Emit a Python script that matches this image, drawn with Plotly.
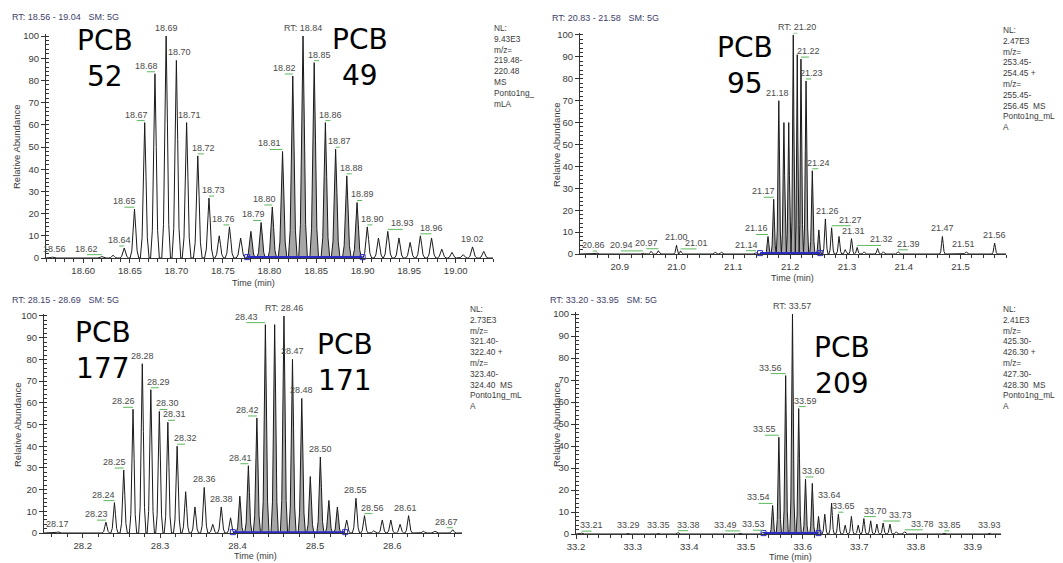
import plotly.graph_objects as go

W, H = 1063, 563

# ---------------- DATA ----------------
# Panel 1: PCB 52 / PCB 49
P1_T = [18.567, 18.620, 18.632, 18.644, 18.655, 18.666, 18.677, 18.689, 18.700, 18.711,
        18.723, 18.735, 18.746, 18.757, 18.769, 18.780, 18.791, 18.803, 18.814, 18.825,
        18.836, 18.848, 18.860, 18.871, 18.883, 18.894, 18.905, 18.917, 18.927, 18.939,
        18.951, 18.962, 18.974, 18.985, 18.996, 19.008, 19.018, 19.030]
P1_H = [0.4, 0.6, 1.2, 4.5, 22, 61, 83, 100, 89, 61,
        46, 27, 10, 14, 9, 12, 16, 23, 48, 82,
        100, 88, 61, 49, 37, 25, 14, 9, 12, 9,
        7, 10, 9, 4, 2.5, 1.5, 5, 3]
P1_L = ["18.56", "18.62", "", "18.64", "18.65", "18.67", "18.68", "18.69", "18.70", "18.71",
        "18.72", "18.73", "", "18.76", "", "", "18.79", "18.80", "18.81", "18.82",
        "RT: 18.84", "18.85", "18.86", "18.87", "18.88", "18.89", "18.90", "", "18.93", "",
        "", "18.96", "", "", "", "", "19.02", ""]
P1_RANGE = [18.56, 19.04]
P1_INTEG = [18.776, 18.900]
P1_HEADER = "RT: 18.56 - 19.04   SM: 5G"
P1_NL = ["NL:", "9.43E3", "m/z=", "219.48-", "220.48", "MS", "Ponto1ng_", "mLA"]
P1_NAMES = [("PCB", "52"), ("PCB", "49")]

# Panel 2: PCB 95
P2_T = [20.860, 20.941, 20.955, 20.968, 21.000, 21.007, 21.068, 21.079, 21.140, 21.161,
        21.171, 21.180, 21.189, 21.1975, 21.2055, 21.2125, 21.219, 21.228, 21.239, 21.2505,
        21.262, 21.273, 21.286, 21.297, 21.308, 21.318, 21.330, 21.354, 21.364, 21.390,
        21.468, 21.510, 21.560]
P2_H = [0.4, 0.5, 1.2, 1.5, 4, 1.4, 0.8, 0.8, 0.6, 8,
        25, 70, 60, 60, 100, 91, 89, 79, 38, 11,
        16, 12, 8, 2, 7, 3, 1, 2.5, 1, 1,
        8, 1, 5]
P2_L = ["20.86", "20.94", "", "20.97", "21.00", "21.01", "", "", "21.14", "21.16",
        "21.17", "21.18", "", "", "RT: 21.20", "", "21.22", "21.23", "21.24", "",
        "21.26", "21.27", "", "", "21.31", "21.32", "", "", "", "21.39",
        "21.47", "21.51", "21.56"]
P2_RANGE = [20.83, 21.58]
P2_INTEG = [21.147, 21.253]
P2_HEADER = "RT: 20.83 - 21.58   SM: 5G"
P2_NL = ["NL:", "2.47E3", "m/z=", "253.45-", "254.45 +", "m/z=", "255.45-", "256.45  MS",
         "Ponto1ng_mL", "A"]
P2_NAMES = [("PCB", "95")]

# Panel 3: PCB 177 / PCB 171
P3_T = [28.168, 28.230, 28.241, 28.253, 28.265, 28.277, 28.288, 28.299, 28.310, 28.322,
        28.333, 28.345, 28.357, 28.368, 28.379, 28.391, 28.403, 28.414, 28.425, 28.436,
        28.448, 28.460, 28.471, 28.483, 28.494, 28.507, 28.518, 28.529, 28.541, 28.553,
        28.564, 28.576, 28.587, 28.598, 28.610, 28.621, 28.640, 28.655, 28.678]
P3_H = [0.5, 5, 14, 29, 57, 78, 66, 56, 51, 40,
        19, 12, 21, 4, 12, 7, 17, 31, 53, 96,
        96, 100, 80, 62, 26, 35, 15, 12, 6, 16,
        8, 1, 6, 6, 4, 8, 0.8, 0.8, 1.5]
P3_L = ["28.17", "28.23", "28.24", "28.25", "28.26", "28.28", "28.29", "28.30", "28.31", "28.32",
        "", "", "28.36", "", "28.38", "", "", "28.41", "28.42", "28.43",
        "", "RT: 28.46", "28.47", "28.48", "", "28.50", "", "", "", "28.55",
        "28.56", "", "", "", "", "28.61", "", "", "28.67"]
P3_RANGE = [28.15, 28.69]
P3_INTEG = [28.394, 28.539]
P3_HEADER = "RT: 28.15 - 28.69   SM: 5G"
P3_NL = ["NL:", "2.73E3", "m/z=", "321.40-", "322.40 +", "m/z=", "323.40-", "324.40  MS",
         "Ponto1ng_mL", "A"]
P3_NAMES = [("PCB", "177"), ("PCB", "171")]

# Panel 4: PCB 209
P4_T = [33.210, 33.292, 33.346, 33.380, 33.490, 33.530, 33.547, 33.558, 33.570, 33.582,
        33.593, 33.605, 33.617, 33.628, 33.639, 33.651, 33.663, 33.675, 33.686, 33.698,
        33.708, 33.720, 33.731, 33.742, 33.754, 33.765, 33.780, 33.850, 33.930]
P4_H = [0.4, 0.4, 0.4, 0.6, 0.5, 0.8, 13, 44, 72, 100,
        57, 25, 23, 8, 9, 14, 9, 4, 8, 4,
        7, 6, 4.5, 5, 4.5, 1, 1, 0.5, 0.5]
P4_L = ["33.21", "33.29", "33.35", "33.38", "33.49", "33.53", "33.54", "33.55", "33.56", "RT: 33.57",
        "33.59", "33.60", "", "", "", "33.64", "33.65", "", "", "",
        "33.70", "", "", "33.73", "", "", "33.78", "33.85", "33.93"]
P4_RANGE = [33.20, 33.95]
P4_INTEG = [33.531, 33.628]
P4_HEADER = "RT: 33.20 - 33.95   SM: 5G"
P4_NL = ["NL:", "2.41E3", "m/z=", "425.30-", "426.30 +", "m/z=", "427.30-", "428.30  MS",
         "Ponto1ng_mL", "A"]
P4_NAMES = [("PCB", "209")]

# ---------------- STYLE / LAYOUT (pixel positions in the 1063x563 view) ----------------
STYLE = [
    dict(xpx=(46, 493), ypx=(258, 33.8), dtick=0.05, minor=0.01, fmt=".2f",
         header=(10, 17), nl=(492, "left", 21), ytitle=(17, 147), xtitle=(253, 283),
         names=[(105, 59), (360, 57)],
         dx={"18.56": 2, "18.62": -15, "18.64": -5, "18.65": -10, "18.67": -8, "18.68": -8,
             "18.70": 3, "18.71": 3, "18.72": 6, "18.73": 5, "18.76": -6, "18.79": -8,
             "18.80": -8, "18.81": -13, "18.82": -8, "18.85": 5, "18.86": 5, "18.87": 4,
             "18.88": 5, "18.89": 5, "18.90": 5, "18.93": 15, "18.96": 11}),
    dict(xpx=(580, 1006), ypx=(254, 32.8), dtick=0.1, minor=0.02, fmt=".1f",
         header=(550, 18), nl=(1057, "right", 23), ytitle=(556, 145), xtitle=(792, 278),
         names=[(745, 66)],
         dx={"20.86": -4, "20.94": -22, "20.97": -12, "21.01": 16, "21.14": -10,
             "21.16": -12, "21.17": -10, "21.18": -1, "RT: 21.20": 4, "21.22": 8,
             "21.23": 5, "21.24": 6, "21.26": 2, "21.27": 19, "21.31": 2, "21.32": 24,
             "21.39": 10, "21.51": -3}),
    dict(xpx=(44, 462), ypx=(533, 313.8), dtick=0.1, minor=0.02, fmt=".1f",
         header=(10, 300), nl=(468, "left", 302), ytitle=(17, 425), xtitle=(255, 556),
         names=[(103, 350), (345, 363)],
         dx={"28.23": -9, "28.24": -11, "28.25": -9, "28.26": -10, "28.29": 8,
             "28.30": 8, "28.31": 7, "28.32": 8, "28.41": -8, "28.42": -9,
             "28.43": -19, "28.56": 8, "28.61": -3, "28.67": -6}),
    dict(xpx=(576, 1001), ypx=(534, 311.8), dtick=0.1, minor=0.02, fmt=".1f",
         header=(548, 300), nl=(1057, "right", 302), ytitle=(556, 425), xtitle=(790, 557),
         names=[(842, 366)],
         dx={"33.21": 10, "33.38": 10, "33.49": -15, "33.53": -10, "33.54": -14,
             "33.55": -14, "33.56": -15, "33.59": 7, "33.60": 8, "33.64": -2,
             "33.65": 5, "33.70": 12, "33.73": 17, "33.78": 18, "33.85": 5}),
]

PANELS = [
    (P1_T, P1_H, P1_L, P1_RANGE, P1_INTEG, P1_HEADER, P1_NL, P1_NAMES),
    (P2_T, P2_H, P2_L, P2_RANGE, P2_INTEG, P2_HEADER, P2_NL, P2_NAMES),
    (P3_T, P3_H, P3_L, P3_RANGE, P3_INTEG, P3_HEADER, P3_NL, P3_NAMES),
    (P4_T, P4_H, P4_L, P4_RANGE, P4_INTEG, P4_HEADER, P4_NL, P4_NAMES),
]

PAGE_OFFSET = 8  # default page body margin
HALF_W = 0.0047
# peak outline profile: offsets (in half-widths) and relative heights
PROFILE_DX = [-1.0, -0.6, -0.3, 0.0, 0.3, 0.6, 1.0]
PROFILE_FY = [0.0, 0.15, 0.6, 1.0, 0.6, 0.15, 0.0]
FONT = "Liberation Sans, Arial, sans-serif"
LINE_C = "#1a1a1a"
AXIS_C = "#333333"
TXT_C = "#3a3a3a"
FILL_C = "#a6a6a6"
BLUE = "#2a2ac8"
GREEN = "#5cb85c"


def px_x(x):
    return (x - PAGE_OFFSET) / W


def px_y(y):
    return 1 - (y - PAGE_OFFSET) / H


def peak_path(times, heights, t_start, t_end):
    xs, ys = [t_start], [0]
    n = len(times)
    for i, (t, h) in enumerate(zip(times, heights)):
        lw = HALF_W if i == 0 else min(HALF_W, (t - times[i - 1]) / 2)
        rw = HALF_W if i == n - 1 else min(HALF_W, (times[i + 1] - t) / 2)
        for d, f in zip(PROFILE_DX, PROFILE_FY):
            xs.append(t + d * (lw if d < 0 else rw))
            ys.append(h * f)
    xs.append(t_end)
    ys.append(0)
    return xs, ys


fig = go.Figure()
annotations = []
shapes = []
layout_axes = {}

for k, (T, Hh, L, rng, integ, header, nl, names) in enumerate(PANELS):
    st = STYLE[k]
    sfx = "" if k == 0 else str(k + 1)
    xa, ya = "x" + sfx, "y" + sfx

    it = [t for t in T if integ[0] <= t <= integ[1]]
    ih = [h for t, h in zip(T, Hh) if integ[0] <= t <= integ[1]]
    fx, fy = peak_path(it, ih, it[0] - HALF_W, it[-1] + HALF_W)
    fig.add_trace(go.Scatter(x=fx, y=fy, mode="lines", fill="tozeroy", fillcolor=FILL_C,
                             line=dict(width=0, color=FILL_C), xaxis=xa, yaxis=ya,
                             hoverinfo="skip", showlegend=False))
    cx, cy = peak_path(T, Hh, rng[0], rng[1])
    fig.add_trace(go.Scatter(x=cx, y=cy, mode="lines", line=dict(width=1, color=LINE_C),
                             xaxis=xa, yaxis=ya, hoverinfo="skip", showlegend=False))
    fig.add_trace(go.Scatter(x=integ, y=[0.4, 0.4], mode="lines+markers",
                             line=dict(width=2, color=BLUE),
                             marker=dict(symbol="square-open", size=5, color=BLUE),
                             xaxis=xa, yaxis=ya, hoverinfo="skip", showlegend=False,
                             cliponaxis=False))

    for t, h, lab in zip(T, Hh, L):
        if not lab:
            continue
        dx = st["dx"].get(lab, 0)
        annotations.append(dict(x=t, y=h, xref=xa, yref=ya, text=lab, showarrow=False,
                                xanchor="center", yanchor="bottom", xshift=dx, yshift=1,
                                font=dict(family=FONT, size=9, color="#4a4a4a")))
        if abs(dx) >= 4:
            shapes.append(dict(type="line", xref=xa, yref=ya, xsizemode="pixel",
                               ysizemode="pixel", xanchor=t, yanchor=h, x0=0, x1=dx,
                               y0=2, y1=2, line=dict(color=GREEN, width=1)))

    x0p, x1p = st["xpx"]
    yb, yt = st["ypx"]
    layout_axes["xaxis" + sfx] = dict(
        domain=[px_x(x0p), px_x(x1p)], range=rng, anchor=ya, automargin=False,
        showline=True, linecolor=AXIS_C, linewidth=1, showgrid=False, zeroline=False,
        ticks="outside", ticklen=4, tickcolor=AXIS_C, tickwidth=1,
        tick0=0, dtick=st["dtick"], tickformat=st["fmt"],
        tickfont=dict(family=FONT, size=9.5, color=TXT_C),
        minor=dict(dtick=st["minor"], tick0=0, ticks="outside", ticklen=3,
                   tickcolor=AXIS_C, showgrid=False),
        fixedrange=True)
    layout_axes["yaxis" + sfx] = dict(
        domain=[px_y(yb), px_y(yt)], range=[0, 101], anchor=xa, automargin=False,
        showline=True, linecolor=AXIS_C, linewidth=1, showgrid=False, zeroline=False,
        ticks="outside", ticklen=4, tickcolor=AXIS_C, tickwidth=1,
        tickvals=list(range(0, 101, 10)),
        tickfont=dict(family=FONT, size=9.5, color=TXT_C),
        minor=dict(dtick=2, tick0=0, ticks="inside", ticklen=3,
                   tickcolor=AXIS_C, showgrid=False),
        fixedrange=True)

    hx, hy = st["header"]
    annotations.append(dict(x=px_x(hx), y=px_y(hy), xref="paper", yref="paper",
                            text=header, showarrow=False, xanchor="left", yanchor="middle",
                            font=dict(family=FONT, size=9, color="#3e3e6a")))
    nx, nanchor, ny = st["nl"]
    annotations.append(dict(x=px_x(nx), y=px_y(ny), xref="paper", yref="paper",
                            text="<br>".join(nl), showarrow=False, xanchor=nanchor,
                            yanchor="top", align="left",
                            font=dict(family=FONT, size=8.3, color=TXT_C)))
    tx, ty = st["ytitle"]
    annotations.append(dict(x=px_x(tx), y=px_y(ty), xref="paper", yref="paper",
                            text="Relative Abundance", textangle=-90, showarrow=False,
                            xanchor="center", yanchor="middle",
                            font=dict(family=FONT, size=9.5, color=TXT_C)))
    tx, ty = st["xtitle"]
    annotations.append(dict(x=px_x(tx), y=px_y(ty), xref="paper", yref="paper",
                            text="Time (min)", showarrow=False,
                            xanchor="center", yanchor="middle",
                            font=dict(family=FONT, size=9, color=TXT_C)))
    for (a, b), (cx_, cy_) in zip(names, st["names"]):
        annotations.append(dict(x=px_x(cx_), y=px_y(cy_), xref="paper", yref="paper",
                                text=a + "<br>" + b, showarrow=False,
                                xanchor="center", yanchor="middle", align="center",
                                font=dict(family="DejaVu Sans", size=28, color="#000000")))

fig.update_layout(
    width=W, height=H, autosize=False,
    margin=dict(l=0, r=0, t=0, b=0, pad=0, autoexpand=False),
    paper_bgcolor="white", plot_bgcolor="white",
    showlegend=False,
    annotations=annotations, shapes=shapes,
    **layout_axes,
)

fig.write_html("out.html")
